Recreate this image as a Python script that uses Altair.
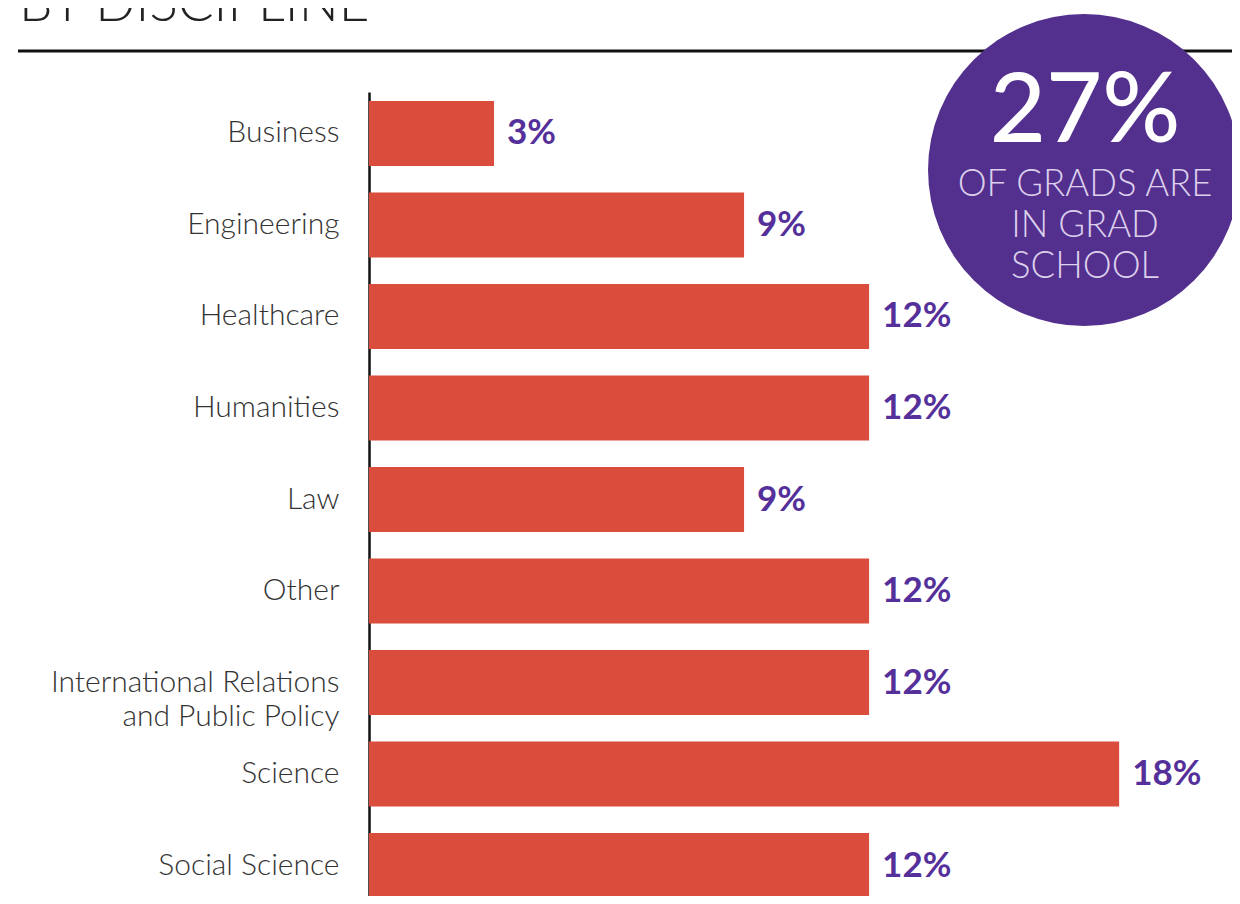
import altair as alt
import pandas as pd

categories = ["Business", "Engineering", "Healthcare", "Humanities", "Law", "Other",
              "International Relations and Public Policy", "Science", "Social Science"]
values = [3, 9, 12, 12, 9, 12, 12, 18, 12]
title_text = "BY DISCIPLINE"
big_stat = "27%"
stat_caption = "OF GRADS ARE\nIN GRAD\nSCHOOL"

BAR = "#DA4C3B"
PURPLE = "#532F8E"
LABEL_PURPLE = "#55309A"
FONT = "Lato"

df = pd.DataFrame({"cat": categories, "val": values,
                   "lbl": [f"{v}%" for v in values]})

yscale = alt.Scale(domain=categories, range=[0, 815], paddingInner=0.29, paddingOuter=0.098)
xscale = alt.Scale(domain=[0, 20.9], range=[0, 871])

base = alt.Chart(df)

bars = base.mark_bar(color=BAR).encode(
    y=alt.Y("cat:N", scale=yscale, sort=categories,
            axis=alt.Axis(title=None, ticks=False, domain=True, domainColor="#111111",
                          domainWidth=2.5, labelFont=FONT, labelFontSize=30,
                          labelFontWeight=300, labelColor="#333333", labelPadding=30,
                          labelLimit=450, labelLineHeight=34, grid=False,
                          labelExpr="datum.label == 'International Relations and Public Policy' ? ['International Relations', 'and Public Policy'] : datum.label")),
    x=alt.X("val:Q", scale=xscale, axis=None),
)

vals = base.mark_text(align="left", baseline="middle", dx=13, font=FONT,
                      fontSize=35, fontWeight="bold", color=LABEL_PURPLE).encode(
    y=alt.Y("cat:N", scale=yscale, sort=categories),
    x=alt.X("val:Q", scale=xscale),
    text="lbl:N",
)

one = alt.Data(values=[{"t": 1}])

title = alt.Chart(alt.Data(values=[{"t": title_text}])).mark_text(
    align="left", baseline="alphabetic", font=FONT, fontSize=53, fontWeight=300,
    color="#222222").encode(x=alt.value(-350), y=alt.value(-71), text="t:N")

rule = alt.Chart(one).mark_rule(color="#111111", strokeWidth=2.8).encode(
    x=alt.value(-351), x2=alt.value(871), y=alt.value(-41))

circle = alt.Chart(one).mark_circle(size=97300, color=PURPLE, opacity=1).encode(
    x=alt.value(715), y=alt.value(78))

stat = alt.Chart(alt.Data(values=[{"t": big_stat}])).mark_text(
    align="center", baseline="alphabetic", font=FONT, fontSize=97, fontWeight=500,
    color="white").encode(x=alt.value(716), y=alt.value(50), text="t:N")

caption = alt.Chart(alt.Data(values=[{"t": stat_caption}])).mark_text(
    align="center", baseline="alphabetic", font=FONT, fontSize=36.5, fontWeight=300,
    color="#DCD0EC", lineBreak="\n", lineHeight=41).encode(
    x=alt.value(716), y=alt.value(104), text="t:N")

chart = alt.layer(rule, title, bars, vals, circle, stat, caption).properties(
    width=863, height=804,
    autosize=alt.AutoSizeParams(type="none"),
    padding={"left": 361, "top": 84, "right": 0, "bottom": 0},
).configure_view(stroke=None)

chart.save("out.html", embed_options={"renderer": "svg", "actions": False})
